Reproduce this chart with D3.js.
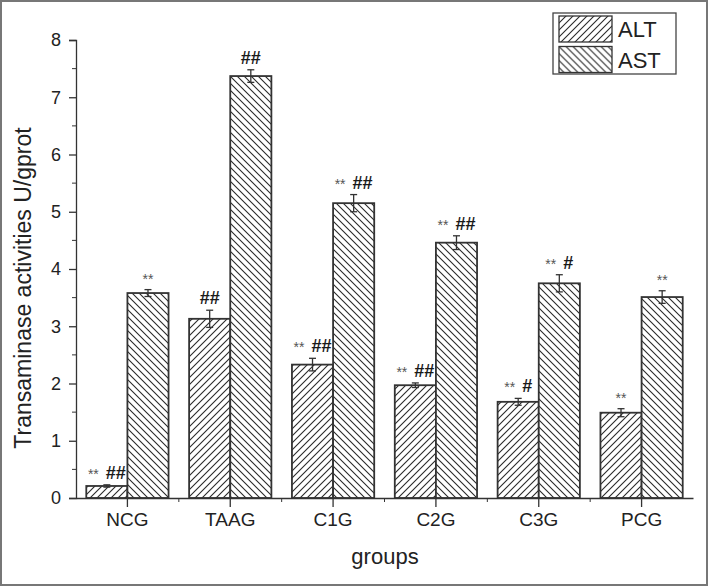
<!DOCTYPE html>
<html>
<head>
<meta charset="utf-8">
<script src="https://cdn.jsdelivr.net/npm/d3@7"></script>
<style>
  body { margin: 0; background: #fff; }
  svg { font-family: "Liberation Sans", Arial, sans-serif; }
</style>
</head>
<body>
<div id="chart"></div>
<script>
// data
var groups = ["NCG", "TAAG", "C1G", "C2G", "C3G", "PCG"];
var seriesNames = ["ALT", "AST"];
var altValues = [0.21, 3.13, 2.33, 1.97, 1.68, 1.49];
var altErrors = [0.02, 0.15, 0.11, 0.04, 0.06, 0.07];
var astValues = [3.58, 7.37, 5.15, 4.46, 3.75, 3.51];
var astErrors = [0.06, 0.11, 0.15, 0.12, 0.15, 0.11];
var altMarks = ["** ##", "##", "** ##", "** ##", "** #", "**"];
var astMarks = ["**", "##", "** ##", "** ##", "** #", "**"];
var yTicks = [0, 1, 2, 3, 4, 5, 6, 7, 8];

var width = 708, height = 586;

var svg = d3.select("#chart").append("svg")
    .attr("width", width)
    .attr("height", height);

// hatch patterns
var defs = svg.append("defs");
function hatch(id, dir) {
  var p = defs.append("pattern")
      .attr("id", id)
      .attr("patternUnits", "userSpaceOnUse")
      .attr("width", 7).attr("height", 7);
  p.append("rect").attr("width", 7).attr("height", 7).attr("fill", "#fff");
  if (dir > 0) {
    p.append("path").attr("d", "M-1,8 L8,-1 M-2,2 L2,-2 M5,9 L9,5");
  } else {
    p.append("path").attr("d", "M-1,-1 L8,8 M-2,5 L2,9 M5,-2 L9,2");
  }
  p.select("path").attr("stroke", "#2a2a2a").attr("stroke-width", 1.1);
}
hatch("hatchALT", 1);
hatch("hatchAST", -1);

var x = d3.scaleBand()
    .domain(groups)
    .range([76, 693])
    .paddingInner(0.2)
    .paddingOuter(0.1);

var xs = d3.scaleBand()
    .domain(seriesNames)
    .range([0, x.bandwidth()]);

var y = d3.scaleLinear()
    .domain([0, 8])
    .range([498, 40]);

var rows = groups.map(function(g, i) {
  return [
    {group: g, key: "ALT", value: altValues[i], err: altErrors[i], mark: altMarks[i]},
    {group: g, key: "AST", value: astValues[i], err: astErrors[i], mark: astMarks[i]}
  ];
});
var bars = d3.merge(rows);

// outer frame
svg.append("rect")
    .attr("x", 1).attr("y", 1)
    .attr("width", width - 2).attr("height", height - 2)
    .attr("fill", "none")
    .attr("stroke", "#777")
    .attr("stroke-width", 2);

// bars
svg.append("g").selectAll("rect")
    .data(bars)
  .enter().append("rect")
    .attr("x", function(d) { return x(d.group) + xs(d.key); })
    .attr("y", function(d) { return y(d.value); })
    .attr("width", xs.bandwidth())
    .attr("height", function(d) { return y(0) - y(d.value); })
    .attr("fill", function(d) { return "url(#hatch" + d.key + ")"; })
    .attr("stroke", "#333")
    .attr("stroke-width", 1.8);

// error bars
var eb = svg.append("g").attr("stroke", "#333").attr("stroke-width", 1.3)
  .selectAll("g")
    .data(bars)
  .enter().append("g")
    .attr("transform", function(d) { return "translate(" + (x(d.group) + xs(d.key) + xs.bandwidth() / 2) + ",0)"; });
eb.append("line")
    .attr("y1", function(d) { return y(d.value - d.err); })
    .attr("y2", function(d) { return y(d.value + d.err); });
eb.append("line")
    .attr("x1", -3.5).attr("x2", 3.5)
    .attr("y1", function(d) { return y(d.value + d.err); })
    .attr("y2", function(d) { return y(d.value + d.err); });
eb.append("line")
    .attr("x1", -3.5).attr("x2", 3.5)
    .attr("y1", function(d) { return y(d.value - d.err); })
    .attr("y2", function(d) { return y(d.value - d.err); });

// significance marks
var marks = svg.append("g").selectAll("text")
    .data(bars)
  .enter().append("text")
    .attr("x", function(d) { return x(d.group) + xs(d.key) + xs.bandwidth() / 2; })
    .attr("y", function(d) { return y(d.value + d.err) - 6; })
    .attr("text-anchor", "middle");
marks.each(function(d) {
  var t = d3.select(this);
  d.mark.split(" ").forEach(function(part, k) {
    var star = part.charAt(0) === "*";
    t.append("tspan")
        .attr("dx", k > 0 ? 7 : 0)
        .attr("font-size", star ? 14 : 18)
        .attr("font-weight", star ? "normal" : "bold")
        .attr("fill", star ? "#555" : "#1a1a1a")
        .text(part);
  });
});

// y axis
var yAxis = svg.append("g")
    .attr("transform", "translate(76,0)")
    .call(d3.axisLeft(y).tickValues(yTicks).tickSize(7).tickPadding(8));
yAxis.select(".domain").attr("stroke", "#333").attr("stroke-width", 1.3);
yAxis.selectAll(".tick line").attr("stroke", "#333").attr("stroke-width", 1.3);
yAxis.selectAll(".tick text").attr("font-size", 18).attr("fill", "#222")
    .attr("font-family", "Liberation Sans, Arial, sans-serif");
svg.append("g")
    .attr("transform", "translate(76,0)")
  .selectAll("line")
    .data(yTicks.slice(1))
  .enter().append("line")
    .attr("x1", -4).attr("x2", 0)
    .attr("y1", function(d) { return y(d - 0.5); })
    .attr("y2", function(d) { return y(d - 0.5); })
    .attr("stroke", "#333");

// x axis
var xAxis = svg.append("g")
    .attr("transform", "translate(0," + y(0) + ")")
    .call(d3.axisBottom(x).tickSize(9).tickPadding(6).tickSizeOuter(0));
xAxis.select(".domain").attr("stroke", "#333").attr("stroke-width", 1.3);
xAxis.selectAll(".tick line").attr("stroke", "#333").attr("stroke-width", 1.3);
xAxis.selectAll(".tick text").attr("font-size", 19).attr("fill", "#222")
    .attr("font-family", "Liberation Sans, Arial, sans-serif");
svg.append("g")
    .attr("transform", "translate(0," + y(0) + ")")
  .selectAll("line")
    .data(groups.slice(1))
  .enter().append("line")
    .attr("x1", function(d) { return x(d) - x.step() * x.paddingInner() / 2; })
    .attr("x2", function(d) { return x(d) - x.step() * x.paddingInner() / 2; })
    .attr("y1", 0).attr("y2", 4)
    .attr("stroke", "#333");

// axis titles
svg.append("text")
    .attr("transform", "translate(31,288) rotate(-90)")
    .attr("text-anchor", "middle")
    .attr("font-size", 23)
    .attr("fill", "#222")
    .text("Transaminase activities U/gprot");

svg.append("text")
    .attr("x", 385)
    .attr("y", 564)
    .attr("text-anchor", "middle")
    .attr("font-size", 22)
    .attr("fill", "#222")
    .text("groups");

// legend
var legend = svg.append("g").attr("transform", "translate(553,13)");
legend.append("rect")
    .attr("width", 123).attr("height", 61)
    .attr("fill", "#fff")
    .attr("stroke", "#444")
    .attr("stroke-width", 1.3);
var li = legend.selectAll(".item")
    .data(seriesNames)
  .enter().append("g")
    .attr("class", "item")
    .attr("transform", function(d, i) { return "translate(6," + (3 + i * 30.5) + ")"; });
li.append("rect")
    .attr("width", 53).attr("height", 26)
    .attr("fill", function(d) { return "url(#hatch" + d + ")"; })
    .attr("stroke", "#333")
    .attr("stroke-width", 1.3);
li.append("text")
    .attr("x", 59)
    .attr("y", 21)
    .attr("font-size", 22)
    .attr("fill", "#222")
    .text(function(d) { return d; });
</script>
</body>
</html>
